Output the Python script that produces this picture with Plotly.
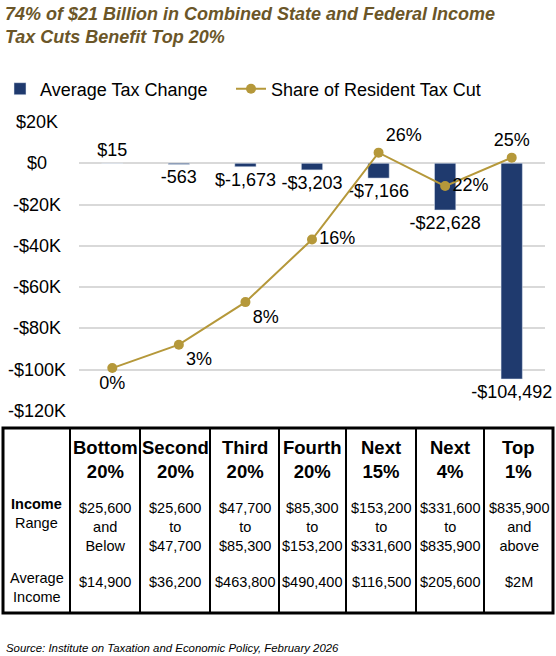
import plotly.graph_objects as go

# data
groups = ["Bottom 20%", "Second 20%", "Third 20%", "Fourth 20%", "Next 15%", "Next 4%", "Top 1%"]
group_top = ["Bottom", "Second", "Third", "Fourth", "Next", "Next", "Top"]
group_pct = ["20%", "20%", "20%", "20%", "15%", "4%", "1%"]
avg_tax_change = [15, -563, -1673, -3203, -7166, -22628, -104492]
avg_tax_labels = ["$15", "-563", "$-1,673", "-$3,203", "-$7,166", "-$22,628", "-$104,492"]
share_tax_cut = [0.2, 3.0, 8.1, 15.6, 26.0, 22.0, 25.4]
share_labels = ["0%", "3%", "8%", "16%", "26%", "22%", "25%"]
range_low = ["$25,600", "$25,600", "$47,700", "$85,300", "$153,200", "$331,600", "$835,900"]
range_mid = ["and", "to", "to", "to", "to", "to", "and"]
range_high = ["Below", "$47,700", "$85,300", "$153,200", "$331,600", "$835,900", "above"]
avg_income = ["$14,900", "$36,200", "$463,800", "$490,400", "$116,500", "$205,600", "$2M"]
y_ticks = [20000, 0, -20000, -40000, -60000, -80000, -100000, -120000]
y_tick_text = ["$20K", "$0", "-$20K", "-$40K", "-$60K", "-$80K", "-$100K", "-$120K"]

NAVY = "#1f3a6e"
GOLD = "#b5983a"
FONT = "Liberation Sans, Arial, sans-serif"

W, H = 556, 656
# plot area in pixels
PX0, PX1, PY0, PY1 = 79, 545, 122, 411


def xp(px):
    return px / W


def yp(py):
    return 1 - py / H


def label(text, x, y, size, **kw):
    d = dict(text=text, x=xp(x), y=yp(y), xref="paper", yref="paper",
             xanchor="center", yanchor="middle", showarrow=False,
             font=dict(size=size, color="black", family=FONT))
    d.update(kw)
    return d


fig = go.Figure()

fig.add_trace(go.Bar(
    x=groups, y=avg_tax_change, name="Average Tax Change",
    marker_color=NAVY, width=0.32,
    text=avg_tax_labels, textposition="outside", constraintext="none",
    textfont=dict(size=18, color="black", family=FONT),
    cliponaxis=False, legend="legend",
))

fig.add_trace(go.Scatter(
    x=groups, y=share_tax_cut, name="Share of Resident Tax Cut", yaxis="y2",
    mode="lines+markers+text",
    line=dict(color=GOLD, width=2), marker=dict(color=GOLD, size=10),
    text=share_labels,
    textposition=["bottom center", "bottom right", "bottom right", "middle right",
                  "top right", "middle right", "top center"],
    textfont=dict(size=18, color="black", family=FONT),
    cliponaxis=False, legend="legend2",
))

annotations = []

# title
annotations.append(dict(
    text="<b><i>74% of $21 Billion in Combined State and Federal Income<br>Tax Cuts Benefit Top 20%</i></b>",
    x=xp(3), y=yp(2), xref="paper", yref="paper", xanchor="left", yanchor="top",
    align="left", showarrow=False, font=dict(size=18, color="#6b5628", family=FONT),
))

# y tick labels, centred like the original
for v, t in zip(y_ticks, y_tick_text):
    annotations.append(dict(
        text=t, x=xp(37), y=v, xref="paper", yref="y", xanchor="center", yanchor="middle",
        showarrow=False, font=dict(size=18, color="black", family=FONT),
    ))

# table
col_edges = [3, 70, 140, 210, 279, 346, 416, 484, 553]
tbl_top, tbl_bot = 428, 613
shapes = [dict(type="rect", xref="paper", yref="paper",
               x0=xp(col_edges[0]), x1=xp(col_edges[-1]), y0=yp(tbl_top), y1=yp(tbl_bot),
               line=dict(color="black", width=3))]
for e in col_edges[1:-1]:
    shapes.append(dict(type="line", xref="paper", yref="paper",
                       x0=xp(e), x1=xp(e), y0=yp(tbl_top), y1=yp(tbl_bot),
                       line=dict(color="black", width=2)))

label_cx = (col_edges[0] + col_edges[1]) / 2
annotations.append(label("<b>Income</b><br>Range", label_cx, 513, 14.5))
annotations.append(label("Average<br>Income", label_cx, 587, 14.5))

for i in range(len(groups)):
    cx = (col_edges[i + 1] + col_edges[i + 2]) / 2
    annotations.append(label("<b>%s<br>%s</b>" % (group_top[i], group_pct[i]), cx, 459, 18.5))
    annotations.append(label("%s<br>%s<br>%s" % (range_low[i], range_mid[i], range_high[i]),
                             cx, 527, 14.5))
    annotations.append(label(avg_income[i], cx, 582, 14.5))

# source
annotations.append(label("<i>Source: Institute on Taxation and Economic Policy, February 2026</i>",
                         4, 648, 11.4, xanchor="left"))

legend_style = dict(orientation="h", yanchor="middle", xanchor="left", y=yp(89),
                    font=dict(size=18, color="black", family=FONT),
                    bgcolor="rgba(0,0,0,0)", borderwidth=0)

fig.update_layout(
    width=W, height=H,
    margin=dict(l=0, r=0, t=0, b=0, pad=0),
    paper_bgcolor="white", plot_bgcolor="white",
    font=dict(family=FONT, size=18, color="black"),
    showlegend=True,
    legend=dict(x=xp(0), **legend_style),
    legend2=dict(x=xp(231), **legend_style),
    xaxis=dict(domain=[xp(PX0), xp(PX1)], showticklabels=False, showgrid=False,
               zeroline=False, showline=False, ticks=""),
    yaxis=dict(domain=[yp(PY1), yp(PY0)], range=[-120000, 20000], tickvals=y_ticks,
               showticklabels=False, gridcolor="#d9d9d9", gridwidth=1.5, zeroline=True,
               zerolinecolor="#d9d9d9", zerolinewidth=1.5, showline=False),
    yaxis2=dict(overlaying="y", range=[-4.94, 29.67], visible=False, showgrid=False),
    annotations=annotations,
    shapes=shapes,
    bargap=0.5,
)

fig.write_html("out.html", config={"displayModeBar": False},
               post_script="document.body.style.margin='0';")
